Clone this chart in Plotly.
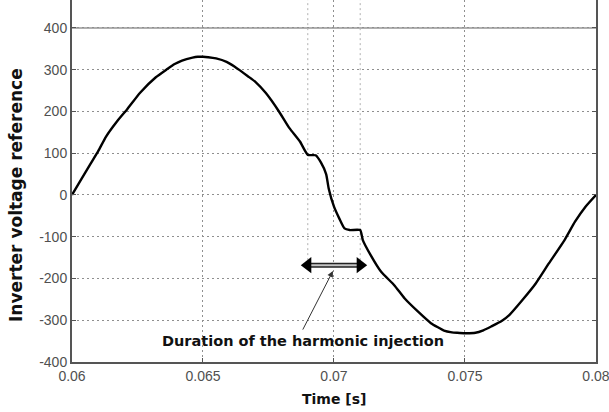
import plotly.graph_objects as go

# Inverter voltage reference over one mains period, with a short
# harmonic injection near the 0.07 s zero crossing.
time_s = [0.0600, 0.0603, 0.0607, 0.0610, 0.0613, 0.0617, 0.0621, 0.0626,
          0.0632, 0.0636, 0.0639, 0.0642, 0.0646, 0.0648, 0.0650, 0.0652,
          0.0655, 0.0659, 0.0662, 0.0664, 0.0667, 0.0670, 0.0674, 0.0679,
          0.0683, 0.0687, 0.0690, 0.0693, 0.0695, 0.0697, 0.0698, 0.0700,
          0.0702, 0.0704, 0.0706, 0.0710, 0.0711, 0.0714, 0.0718, 0.0723,
          0.0727, 0.0732, 0.0737, 0.0740, 0.0742, 0.0745, 0.0747, 0.0750,
          0.0754, 0.0757, 0.0760, 0.0764, 0.0767, 0.0772, 0.0777, 0.0782,
          0.0788, 0.0792, 0.0796, 0.0800]
voltage = [0, 32, 74, 105, 140, 175, 205, 245,
           282, 300, 313, 322, 329, 331, 331, 330,
           327, 319, 308, 299, 285, 271, 244, 200,
           160, 128, 96, 95, 78, 50, 15, -28,
           -56, -80, -84, -84, -108, -144, -184, -216,
           -248, -279, -307, -318, -325, -329, -330, -331,
           -330, -324, -315, -302, -287, -251, -212, -164,
           -108, -64, -28, 0]

x_ticks = [0.06, 0.065, 0.07, 0.075, 0.08]
x_tick_labels = ["0.06", "0.065", "0.07", "0.075", "0.08"]
y_ticks = [-400, -300, -200, -100, 0, 100, 200, 300, 400]
y_tick_labels = ["-400", "-300", "-200", "-100", "0", "100", "200", "300", "400"]

injection_start = 0.069
injection_end = 0.071
arrow_level = -168
label_text = "Duration of the harmonic injection"
label_pos = (0.0688, -350)
pointer_tail = (0.06878, -326)
pointer_head = (0.06996, -182)

axis_color = "#555555"
grid_color = "#8f8f8f"
grid_dash = "2px,3px"
tick_font = dict(family="Liberation Sans", size=14, color="#505050")

fig = go.Figure()

# voltage waveform
fig.add_trace(go.Scatter(x=time_s, y=voltage, mode="lines",
                         line=dict(color="#000000", width=2.4, shape="spline", smoothing=0.5),
                         hoverinfo="skip", showlegend=False))

# double arrow spanning the injection interval: dark outline, grey core, black heads
fig.add_trace(go.Scatter(x=[injection_start, injection_end], y=[arrow_level, arrow_level],
                         mode="lines", line=dict(color="#222222", width=5),
                         hoverinfo="skip", showlegend=False))
fig.add_trace(go.Scatter(x=[injection_start, injection_end], y=[arrow_level, arrow_level],
                         mode="lines", line=dict(color="#c4c4c4", width=2),
                         hoverinfo="skip", showlegend=False))
fig.add_trace(go.Scatter(x=[injection_start, injection_end], y=[arrow_level, arrow_level],
                         mode="markers",
                         marker=dict(symbol=["triangle-left", "triangle-right"],
                                     size=14, color="#000000"),
                         hoverinfo="skip", showlegend=False))

shapes = [
    # solid reference line at the top tick
    dict(type="line", xref="paper", x0=0, x1=1, yref="y", y0=400, y1=400,
         line=dict(color="#b0b0b0", width=2), layer="below"),
    # dotted markers of the injection window
    dict(type="line", xref="x", x0=injection_start, x1=injection_start,
         yref="y", y0=arrow_level, y1=467,
         line=dict(color="#b0b0b0", width=1, dash=grid_dash), layer="below"),
    dict(type="line", xref="x", x0=injection_end, x1=injection_end,
         yref="y", y0=arrow_level, y1=467,
         line=dict(color="#b0b0b0", width=1, dash=grid_dash), layer="below"),
]

annotations = [
    dict(x=label_pos[0], y=label_pos[1], xref="x", yref="y", text="<b>" + label_text + "</b>",
         showarrow=False, font=dict(family="DejaVu Sans", size=14.5, color="#111111"),
         xanchor="center", yanchor="middle"),
    dict(x=pointer_head[0], y=pointer_head[1], ax=pointer_tail[0], ay=pointer_tail[1],
         xref="x", yref="y", axref="x", ayref="y", text="", showarrow=True,
         arrowhead=2, arrowsize=1.2, arrowwidth=1, arrowcolor="#333333"),
    dict(x=0.07, y=0, xref="x", yref="paper", text="<b>Time [s]</b>", showarrow=False,
         font=dict(family="DejaVu Sans", size=14, color="#111111"),
         xanchor="center", yanchor="top", yshift=-27),
    dict(x=0, y=0, xref="paper", yref="y", text="<b>Inverter voltage reference</b>",
         showarrow=False, textangle=-90,
         font=dict(family="DejaVu Sans", size=17, color="#111111"),
         xanchor="center", yanchor="middle", xshift=-56),
]

fig.update_layout(
    width=609, height=412,
    margin=dict(l=72, r=13, t=0, b=50),
    paper_bgcolor="#ffffff", plot_bgcolor="#ffffff",
    shapes=shapes, annotations=annotations,
    showlegend=False,
)

fig.update_xaxes(range=[0.06, 0.080001], tickvals=x_ticks, ticktext=x_tick_labels,
                 showgrid=True, gridcolor=grid_color, griddash=grid_dash, gridwidth=1,
                 showline=True, linecolor=axis_color, linewidth=2, mirror=False,
                 ticks="inside", ticklen=4, tickcolor=axis_color,
                 tickfont=tick_font, ticklabeloverflow="allow", zeroline=False)
fig.update_yaxes(range=[-400, 467], tickvals=y_ticks, ticktext=y_tick_labels,
                 showgrid=True, gridcolor=grid_color, griddash=grid_dash, gridwidth=1,
                 showline=True, linecolor=axis_color, linewidth=2, mirror="ticks",
                 ticks="inside", ticklen=4, tickcolor=axis_color,
                 tickfont=tick_font, ticklabeloverflow="allow", zeroline=False)

fig.write_html("out.html")
